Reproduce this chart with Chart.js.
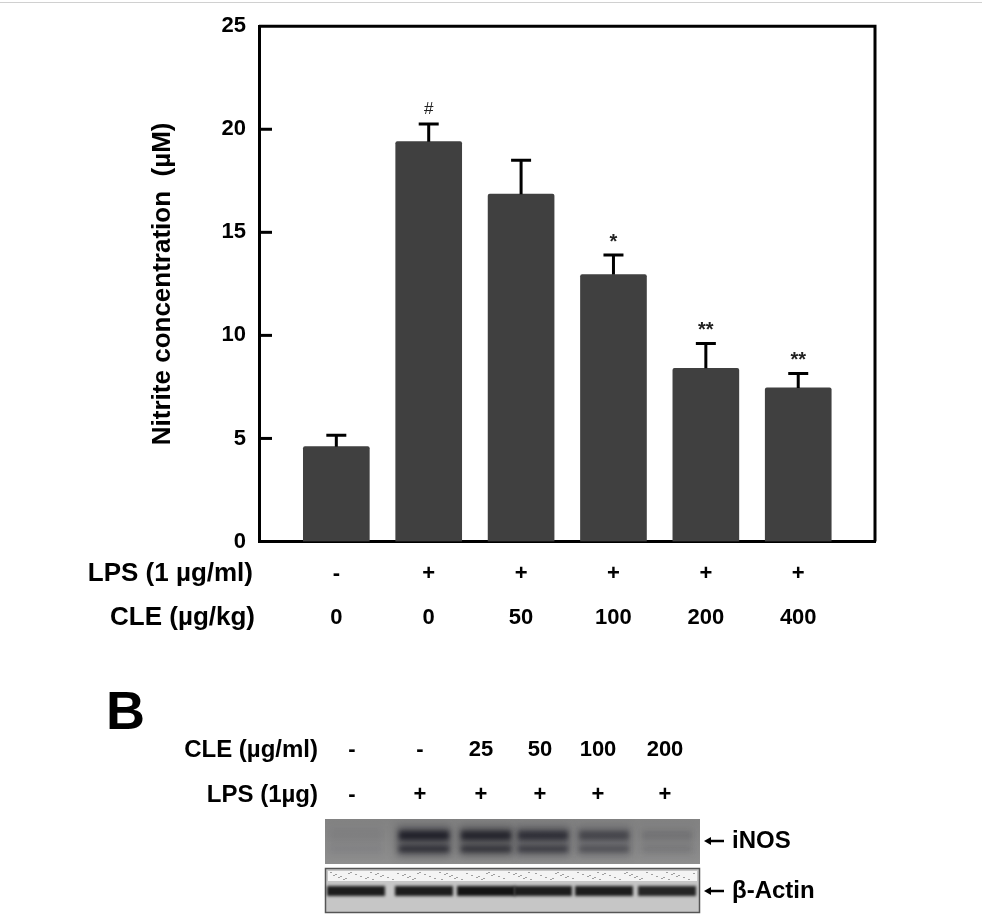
<!DOCTYPE html>
<html>
<head>
<meta charset="utf-8">
<script src="https://cdn.jsdelivr.net/npm/chart.js@4.4.1/dist/chart.umd.min.js"></script>
<style>
  html, body { margin: 0; padding: 0; background: #fff; }
  body { width: 982px; height: 915px; position: relative; overflow: hidden; }
  #topRule { position: absolute; left: 0; top: 2px; width: 982px; border-top: 1px solid #d0d0d0; }
  #chartWrap { position: absolute; left: 0; top: 0; width: 982px; height: 660px; }
  #blot { position: absolute; left: 0; top: 660px; }
</style>
</head>
<body>
<div id="topRule"></div>
<div id="chartWrap"><canvas id="nitriteChart" width="982" height="660"></canvas></div>
<canvas id="blot" width="982" height="255"></canvas>
<script>
// Panel A: nitrite production
const groups = [1, 2, 3, 4, 5, 6];
const lpsRow = ['-', '+', '+', '+', '+', '+'];
const cleRow = ['0', '0', '50', '100', '200', '400'];
const nitrite = [4.6, 19.4, 16.85, 12.95, 8.4, 7.45];
const nitriteSd = [0.55, 0.85, 1.65, 0.95, 1.2, 0.7];
const marks = ['', '#', '', '*', '**', '**'];

// Panel B: western blot lanes
const blotCle = ['-', '-', '25', '50', '100', '200'];
const blotLps = ['-', '+', '+', '+', '+', '+'];
const inosLevel = [0.05, 1, 0.95, 0.8, 0.55, 0.15];
const actinLevel = [0.95, 0.95, 1, 0.95, 0.95, 0.9];

const FONT = '"Liberation Sans", Arial, sans-serif';

/**
 * Error bars, significance marks, frame, inward ticks and row headers
 */
const figureExtras = {
    id: 'figureExtras',
    afterDatasetsDraw(chart) {
        const { ctx, chartArea, scales: { y } } = chart;
        const meta = chart.getDatasetMeta(0);
        ctx.save();
        ctx.strokeStyle = '#000';
        ctx.lineWidth = 3;
        meta.data.forEach((bar, i) => {
            const top = y.getPixelForValue(nitrite[i] + nitriteSd[i]);
            ctx.beginPath();
            ctx.moveTo(bar.x, bar.y);
            ctx.lineTo(bar.x, top);
            ctx.moveTo(bar.x - 10, top);
            ctx.lineTo(bar.x + 10, top);
            ctx.stroke();
            if (marks[i]) {
                ctx.fillStyle = '#222';
                ctx.font = (marks[i] === '#' ? '17px ' : 'bold 20px ') + FONT;
                ctx.textAlign = 'center';
                ctx.textBaseline = 'middle';
                ctx.fillText(marks[i], bar.x, top - (marks[i] === '#' ? 15 : 13));
            }
        });

        // top and right side of the frame
        ctx.beginPath();
        ctx.moveTo(chartArea.left, chartArea.top);
        ctx.lineTo(chartArea.right, chartArea.top);
        ctx.lineTo(chartArea.right, chartArea.bottom);
        ctx.stroke();

        // inward tick marks
        y.ticks.forEach((t, i) => {
            if (t.value === y.min || t.value === y.max) return;
            const py = y.getPixelForTick(i);
            ctx.beginPath();
            ctx.moveTo(chartArea.left, py);
            ctx.lineTo(chartArea.left + 13, py);
            ctx.stroke();
        });

        // row headers for the treatment table
        ctx.fillStyle = '#000';
        ctx.font = 'bold 26px ' + FONT;
        ctx.textAlign = 'right';
        ctx.textBaseline = 'middle';
        ctx.fillText('LPS (1 µg/ml)', chartArea.left - 6, chartArea.bottom + 32.5);
        ctx.fillText('CLE (µg/kg)', chartArea.left - 4, chartArea.bottom + 76.5);
        ctx.restore();
    }
};

const data = {
    datasets: [{
        label: 'Nitrite',
        data: groups.map((g, i) => ({ x: g, y: nitrite[i] })),
        backgroundColor: '#404040',
        borderRadius: { topLeft: 2, topRight: 2 },
        borderSkipped: 'bottom',
        barThickness: 66
    }]
};

const config = {
    type: 'bar',
    data: data,
    plugins: [figureExtras],
    options: {
        responsive: false,
        animation: false,
        layout: { padding: { left: 0, right: 107, top: 25, bottom: 0 } },
        plugins: {
            legend: { display: false },
            tooltip: { enabled: false }
        },
        scales: {
            x: {
                type: 'linear',
                offset: false,
                min: 0.163,
                max: 6.831,
                afterFit: function (scale) { scale.height = 118.5; },
                grid: { display: false, drawTicks: false },
                border: { display: true, color: '#000', width: 3 },
                ticks: {
                    stepSize: 1,
                    includeBounds: false,
                    autoSkip: false,
                    maxRotation: 0,
                    padding: 10.5,
                    color: '#000',
                    font: { family: FONT, size: 22, weight: 'bold', lineHeight: 2 },
                    callback: function (value) {
                        const i = groups.indexOf(value);
                        return i < 0 ? null : [lpsRow[i], cleRow[i]];
                    }
                }
            },
            y: {
                min: 0,
                max: 25,
                afterFit: function (scale) { scale.width = 259; },
                grid: { display: false, drawTicks: false },
                border: { display: true, color: '#000', width: 3 },
                ticks: {
                    stepSize: 5,
                    padding: 13,
                    color: '#000',
                    font: { family: FONT, size: 22, weight: 'bold' }
                },
                title: {
                    display: true,
                    text: 'Nitrite concentration  (µM)',
                    color: '#000',
                    padding: { top: 147, bottom: 0 },
                    font: { family: FONT, size: 26, weight: 'bold' }
                }
            }
        }
    }
};

new Chart(document.getElementById('nitriteChart').getContext('2d'), config);

/**
 * Panel B: western blot picture drawn on a plain canvas
 */
function drawBlot() {
    const c = document.getElementById('blot');
    const ctx = c.getContext('2d');
    const top = 660;
    const labelX = [352, 420, 481, 540, 598, 665];
    const laneX = [356, 424, 486, 543, 604, 667];

    ctx.fillStyle = '#000';
    ctx.font = 'bold 54px ' + FONT;
    ctx.textBaseline = 'alphabetic';
    ctx.fillText('B', 106, 729 - top);

    ctx.font = 'bold 24px ' + FONT;
    ctx.textBaseline = 'middle';
    ctx.textAlign = 'right';
    ctx.fillText('CLE (µg/ml)', 318, 750 - top);
    ctx.fillText('LPS (1µg)', 318, 795 - top);
    ctx.font = 'bold 22px ' + FONT;
    ctx.textAlign = 'center';
    labelX.forEach((x, i) => {
        ctx.fillText(blotCle[i], x, 750 - top);
        ctx.fillText(blotLps[i], x, 795 - top);
    });

    // iNOS strip
    const g1 = ctx.createLinearGradient(0, 819 - top, 0, 864 - top);
    g1.addColorStop(0, '#828282');
    g1.addColorStop(1, '#8e8e8e');
    ctx.fillStyle = g1;
    ctx.fillRect(325, 819 - top, 375, 45);
    ctx.save();
    ctx.beginPath();
    ctx.rect(325, 819 - top, 375, 45);
    ctx.clip();
    ctx.filter = 'blur(4px)';
    laneX.forEach((x, i) => {
        const a = inosLevel[i];
        ctx.fillStyle = 'rgba(20,20,30,' + (a * 0.4) + ')';
        ctx.fillRect(x - 27, 826 - top, 54, 30);
    });
    ctx.filter = 'blur(2.5px)';
    laneX.forEach((x, i) => {
        const a = inosLevel[i];
        ctx.fillStyle = 'rgba(15,15,25,' + (a * 0.75) + ')';
        ctx.fillRect(x - 25, 831 - top, 50, 9);
        ctx.fillStyle = 'rgba(15,15,25,' + (a * 0.6) + ')';
        ctx.fillRect(x - 25, 846 - top, 50, 6);
    });
    ctx.restore();

    // beta-actin strip
    ctx.fillStyle = '#c6c6c6';
    ctx.fillRect(325, 868 - top, 375, 45);
    ctx.strokeStyle = '#555';
    ctx.lineWidth = 1.5;
    ctx.strokeRect(325.5, 868.5 - top, 374, 44);
    ctx.fillStyle = '#f4f4f4';
    ctx.fillRect(328, 871 - top, 369, 10);
    ctx.fillStyle = '#a0a0a0';
    for (let k = 0; k < 110; k++) {
        const px = 330 + ((k * 37) % 365);
        const py = 872 + ((k * 13) % 8);
        ctx.fillRect(px, py - top, 2, 1);
    }
    ctx.save();
    ctx.filter = 'blur(1.5px)';
    laneX.forEach((x, i) => {
        ctx.fillStyle = 'rgba(20,20,20,' + actinLevel[i] + ')';
        ctx.fillRect(x - 29, 886 - top, 58, 10);
    });
    ctx.restore();

    // arrows with labels
    ctx.strokeStyle = '#000';
    ctx.fillStyle = '#000';
    ctx.lineWidth = 2.5;
    [[841, 'iNOS'], [891, 'β-Actin']].forEach(([yy, txt]) => {
        const py = yy - top;
        ctx.beginPath();
        ctx.moveTo(708, py);
        ctx.lineTo(724, py);
        ctx.stroke();
        ctx.beginPath();
        ctx.moveTo(704, py);
        ctx.lineTo(711, py - 4);
        ctx.lineTo(711, py + 4);
        ctx.closePath();
        ctx.fill();
        ctx.textAlign = 'left';
        ctx.font = 'bold 24px ' + FONT;
        ctx.fillText(txt, 732, py);
    });
}

drawBlot();
</script>
</body>
</html>
